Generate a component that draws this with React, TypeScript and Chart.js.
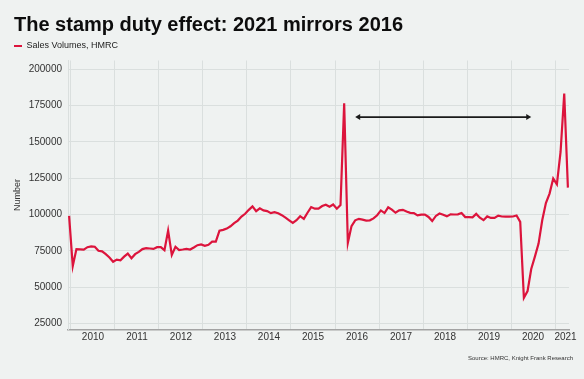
import React, { useEffect, useRef } from 'react';
import { Chart, registerables } from 'chart.js';

Chart.register(...registerables);

// ---------- data ----------
const TITLE = 'The stamp duty effect: 2021 mirrors 2016';
const SERIES_LABEL = 'Sales Volumes, HMRC';
const SOURCE = 'Source: HMRC, Knight Frank Research';
const Y_TITLE = 'Number';

// Monthly sales volumes, Dec 2009 .. Apr 2021 (x = month index, 0 = Dec 2009)
const v2009 = [99000];
const v2010 = [64500, 76200, 76000, 75800, 77500, 78000, 77800, 75000, 74600, 72700, 70400, 67500];
const v2011 = [69000, 68500, 71000, 73100, 69900, 72700, 74300, 76200, 76900, 76600, 76300, 77500];
const v2012 = [77600, 75500, 88900, 72200, 77800, 75500, 75900, 76400, 75900, 77300, 78900, 79400];
const v2013 = [78500, 79200, 81300, 81300, 88900, 89400, 90300, 91900, 94000, 95800, 98600, 100500];
const v2014 = [103200, 105600, 102300, 104200, 102800, 102300, 100900, 101600, 100800, 99500, 97800, 96000];
const v2015 = [94200, 96100, 98800, 97000, 101200, 105100, 104000, 104000, 105800, 106700, 105300, 106900];
const v2016 = [104000, 106500, 176500, 80500, 92000, 96000, 97000, 96500, 95800, 96000, 97300, 99500];
const v2017 = [102800, 101000, 104900, 103300, 101200, 102800, 103200, 102000, 101100, 101000, 99400, 99900];
const v2018 = [99900, 98300, 95500, 99000, 100700, 99800, 98700, 100100, 100000, 100100, 101000, 98200];
const v2019 = [98200, 98000, 100400, 97800, 96100, 98700, 97600, 97600, 99200, 98600, 98500, 98500];
const v2020 = [98600, 99300, 94900, 42700, 47300, 62500, 71000, 80000, 96000, 107900, 114400, 124700];
const v2021 = [120800, 143000, 183200, 118500];

const salesVolumes = [
  ...v2009, ...v2010, ...v2011, ...v2012, ...v2013, ...v2014,
  ...v2015, ...v2016, ...v2017, ...v2018, ...v2019, ...v2020, ...v2021,
];

const yearLabels = ['2010', '2011', '2012', '2013', '2014', '2015', '2016', '2017', '2018', '2019', '2020', '2021'];
const yTickValues = [25000, 50000, 75000, 100000, 125000, 150000, 175000, 200000];

// Arrow annotation: Jun 2016 -> Jun 2020 at 167,000
const ARROW_FROM = 78;
const ARROW_TO = 126;
const ARROW_LEVEL = 167000;

// ---------- styles ----------
const FONT = "'Liberation Sans', Arial, Helvetica, sans-serif";
const BG = '#eff2f1';
const RED = '#dc143c';
const GRID = '#dadfde';
const TEXT = '#333333';

const X_MIN = -0.3;
const X_MAX = 136.3;
const LABEL_END = 138.2;
const Y_MIN = 20900;
const Y_MAX = 205900;

const xTickDefs = yearLabels.flatMap((lab, k) => {
  const start = 0.5 + 12 * k;
  const end = Math.min(start + 12, LABEL_END);
  return [
    { value: start, label: '' },
    { value: (start + end) / 2, label: lab },
  ];
});

const annotationPlugin = {
  id: 'annotations',
  afterDatasetsDraw(chart: any) {
    const { ctx, scales } = chart;
    const x1 = scales.x.getPixelForValue(ARROW_FROM);
    const x2 = scales.x.getPixelForValue(ARROW_TO);
    const yy = scales.y.getPixelForValue(ARROW_LEVEL);
    const head = 5;
    const hw = 3;
    ctx.save();
    ctx.strokeStyle = '#1a1a1a';
    ctx.fillStyle = '#1a1a1a';
    ctx.lineWidth = 1.8;
    ctx.beginPath();
    ctx.moveTo(x1 + head - 1, yy);
    ctx.lineTo(x2 - head + 1, yy);
    ctx.stroke();
    ctx.beginPath();
    ctx.moveTo(x1, yy);
    ctx.lineTo(x1 + head, yy - hw);
    ctx.lineTo(x1 + head, yy + hw);
    ctx.closePath();
    ctx.fill();
    ctx.beginPath();
    ctx.moveTo(x2, yy);
    ctx.lineTo(x2 - head, yy - hw);
    ctx.lineTo(x2 - head, yy + hw);
    ctx.closePath();
    ctx.fill();
    ctx.restore();
  },
  afterDraw(chart: any) {
    const { ctx, chartArea } = chart;
    ctx.save();
    ctx.font = `6px ${FONT}`;
    ctx.fillStyle = TEXT;
    ctx.textAlign = 'right';
    ctx.textBaseline = 'middle';
    ctx.fillText(SOURCE, chart.width - 11, chartArea.bottom + 29);
    ctx.restore();
  },
};

export default function App() {
  const ref = useRef<HTMLCanvasElement>(null);

  useEffect(() => {
    const canvas = ref.current;
    if (!canvas) return;
    const chart = new Chart(canvas, {
      type: 'line',
      data: {
        datasets: [
          {
            label: SERIES_LABEL,
            data: salesVolumes.map((v, i) => ({ x: i, y: v })),
            borderColor: RED,
            backgroundColor: RED,
            borderWidth: 2.2,
            pointRadius: 0,
            tension: 0,
            fill: false,
          },
        ],
      },
      options: {
        responsive: false,
        animation: false,
        events: [],
        layout: { padding: { left: 14, right: 15, top: 0, bottom: 33.5 } },
        plugins: {
          title: {
            display: true,
            text: TITLE,
            align: 'start',
            color: '#0d0d0d',
            font: { family: FONT, size: 20, weight: 'bold', lineHeight: 1.2 },
            padding: { top: 13, bottom: 4.5 },
          },
          legend: {
            display: true,
            align: 'start',
            labels: {
              usePointStyle: true,
              pointStyle: 'line',
              pointStyleWidth: 8,
              padding: 0,
              color: '#222222',
              font: { family: FONT, size: 9 },
            },
          },
          tooltip: { enabled: false },
        },
        scales: {
          x: {
            type: 'linear',
            min: X_MIN,
            max: X_MAX,
            afterBuildTicks: (scale: any) => {
              scale.ticks = xTickDefs.map((t) => ({ value: t.value }));
            },
            ticks: {
              autoSkip: false,
              maxRotation: 0,
              minRotation: 0,
              padding: 2,
              color: TEXT,
              font: { family: FONT, size: 10 },
              callback: (_v: any, i: number) => (xTickDefs[i] ? xTickDefs[i].label : ''),
            },
            grid: {
              drawTicks: false,
              color: (c: any) => (c.index % 2 === 0 ? GRID : 'rgba(0,0,0,0)'),
            },
            border: { display: true, color: '#a3a3a3', width: 1.5 },
          },
          y: {
            type: 'linear',
            min: Y_MIN,
            max: Y_MAX,
            afterBuildTicks: (scale: any) => {
              scale.ticks = yTickValues.map((v) => ({ value: v }));
            },
            afterFit: (scale: any) => {
              scale.width = 54;
            },
            ticks: {
              padding: 6,
              color: TEXT,
              font: { family: FONT, size: 10 },
              callback: (v: any) => String(v),
            },
            grid: { drawTicks: false, color: GRID },
            border: { display: true, color: GRID },
            title: {
              display: true,
              text: Y_TITLE,
              color: TEXT,
              font: { family: FONT, size: 9 },
              padding: { top: -2, bottom: 0 },
            },
          },
        },
      },
      plugins: [annotationPlugin],
    } as any);
    return () => chart.destroy();
  }, []);

  return (
    <div style={{ position: 'fixed', left: 0, top: 0, width: 584, height: 379, background: BG }}>
      <canvas ref={ref} width={584} height={379} style={{ display: 'block', width: 584, height: 379 }} />
    </div>
  );
}
